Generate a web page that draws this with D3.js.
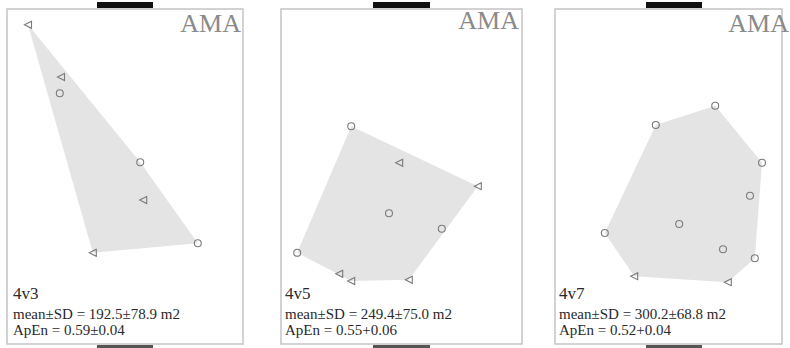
<!DOCTYPE html>
<html>
<head>
<meta charset="utf-8">
<script src="https://cdn.jsdelivr.net/npm/d3@7"></script>
<style>
  html, body { margin: 0; padding: 0; background: #fff; }
  svg { display: block; }
</style>
</head>
<body>
<svg id="chart" width="790" height="348"></svg>
<script>
// Group sessions: one panel per game format
const formats = ["4v3", "4v5", "4v7"];
const teamLabel = "AMA";
const areaMean = [192.5, 249.4, 300.2];
const areaSd = [78.9, 75.0, 68.8];
const apenMean = [0.59, 0.55, 0.52];
const apenSd = [0.04, 0.06, 0.04];
const apenSep = ["±", "+", "+"];

// Player positions (field metres, x east, y north); shape = marker type
const playersX = [
  [3.5, 9.0, 8.8, 22.2, 22.7, 31.8, 14.3],
  [11.7, 19.7, 32.8, 18.0, 26.8, 2.7, 9.7, 11.7, 21.3],
  [26.7, 16.8, 34.5, 32.5, 20.7, 8.3, 28.0, 33.3, 13.2, 28.8]
];
const playersY = [
  [53.2, 44.5, 41.8, 30.3, 24.0, 16.8, 15.2],
  [36.3, 30.2, 26.3, 21.8, 19.2, 15.2, 11.7, 10.5, 10.7],
  [39.7, 36.5, 30.2, 24.7, 20.0, 18.5, 15.8, 14.3, 11.3, 10.3]
];
const playersShape = [
  ["tri", "tri", "circ", "circ", "tri", "circ", "tri"],
  ["circ", "tri", "tri", "circ", "circ", "circ", "tri", "tri", "tri"],
  ["circ", "circ", "circ", "circ", "circ", "circ", "circ", "circ", "tri", "tri"]
];

// Panel layout (pixels)
const panels = [
  { x0: 7, x1: 243, bar: [97, 153], amaRight: 241, amaBase: 32, textX: 13 },
  { x0: 281, x1: 522, bar: [373, 430], amaRight: 519, amaBase: 29, textX: 285 },
  { x0: 555, x1: 782, bar: [646, 702], amaRight: 789, amaBase: 32, textX: 559 }
];
const frameTop = 9, frameBottom = 344;
const pxPerMetre = 6;

const svg = d3.select("#chart");
const serif = "'Liberation Serif', 'DejaVu Serif', serif";

formats.forEach((fmt, i) => {
  const p = panels[i];
  const g = svg.append("g");

  const x = d3.scaleLinear().domain([0, 40]).range([p.x0, p.x0 + 40 * pxPerMetre]);
  const y = d3.scaleLinear().domain([0, 56]).range([frameBottom, frameBottom - 56 * pxPerMetre]);

  // frame
  g.append("rect")
    .attr("x", p.x0).attr("y", frameTop)
    .attr("width", p.x1 - p.x0).attr("height", frameBottom - frameTop)
    .attr("fill", "#fff").attr("stroke", "#c4c4c4").attr("stroke-width", 1.5);

  // goal markers top and bottom
  g.append("rect")
    .attr("x", p.bar[0]).attr("y", 2)
    .attr("width", p.bar[1] - p.bar[0]).attr("height", 6)
    .attr("fill", "#111");
  g.append("rect")
    .attr("x", p.bar[0]).attr("y", 345)
    .attr("width", p.bar[1] - p.bar[0]).attr("height", 3)
    .attr("fill", "#555");

  const pts = playersX[i].map((vx, k) => ({ x: vx, y: playersY[i][k], s: playersShape[i][k] }));

  // convex hull of the team
  const hull = d3.polygonHull(pts.map(d => [x(d.x), y(d.y)]));
  g.append("path")
    .attr("d", "M" + hull.join("L") + "Z")
    .attr("fill", "#e4e4e4")
    .attr("stroke", "none");

  // players
  const tri = "M3.5,-3.5L-3.5,0L3.5,3.5Z";
  g.selectAll(".pl").data(pts).enter()
    .append("path")
    .attr("transform", d => `translate(${x(d.x)},${y(d.y)})`)
    .attr("d", d => d.s === "tri" ? tri : d3.symbol(d3.symbolCircle, 38)())
    .attr("fill", "none")
    .attr("stroke", "#7a7a7a")
    .attr("stroke-width", 1.1);

  // team label
  g.append("text")
    .attr("x", p.amaRight).attr("y", p.amaBase)
    .attr("text-anchor", "end")
    .attr("font-family", serif).attr("font-size", 26)
    .attr("fill", "#8a8a8a")
    .text(teamLabel);

  // stats
  g.append("text")
    .attr("x", p.textX).attr("y", 299)
    .attr("font-family", serif).attr("font-size", 17)
    .attr("fill", "#2a2a2a")
    .text(fmt);
  g.append("text")
    .attr("x", p.textX).attr("y", 319)
    .attr("font-family", serif).attr("font-size", 15)
    .attr("fill", "#2a2a2a")
    .text(`mean±SD = ${areaMean[i].toFixed(1)}±${areaSd[i].toFixed(1)} m2`);
  g.append("text")
    .attr("x", p.textX).attr("y", 335)
    .attr("font-family", serif).attr("font-size", 15)
    .attr("fill", "#2a2a2a")
    .text(`ApEn = ${apenMean[i].toFixed(2)}${apenSep[i]}${apenSd[i].toFixed(2)}`);
});
</script>
</body>
</html>
